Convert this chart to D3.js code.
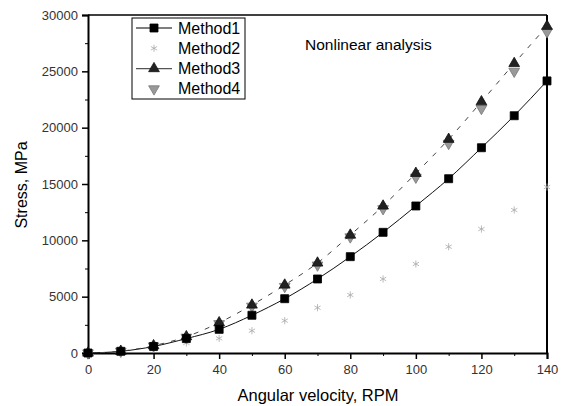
<!DOCTYPE html>
<html>
<head>
<meta charset="utf-8">
<script src="https://cdn.jsdelivr.net/npm/d3@7"></script>
<style>
  body { margin: 0; background: #fff; }
  svg { font-family: "Liberation Sans", Arial, sans-serif; }
</style>
</head>
<body>
<div id="chart"></div>
<script>
// ------------------------------------------------------------
// Data
// ------------------------------------------------------------
const rpm = [0, 10, 20, 30, 40, 50, 60, 70, 80, 90, 100, 110, 120, 130, 140];
const method1 = [0, 150, 580, 1280, 2100, 3350, 4820, 6570, 8550, 10710, 13050, 15470, 18220, 21060, 24150];
const method2 = [0, 100, 350, 890, 1300, 1980, 2870, 4020, 5150, 6570, 7900, 9430, 11000, 12690, 14730];
const method3 = [0, 160, 650, 1450, 2690, 4260, 6035, 7990, 10470, 13050, 15950, 18970, 22300, 25700, 29000];
const method4 = [0, 150, 620, 1400, 2600, 4150, 5900, 7800, 10300, 12800, 15600, 18600, 21700, 25000, 28500];
const xTicks = [0, 20, 40, 60, 80, 100, 120, 140];
const yTicks = [0, 5000, 10000, 15000, 20000, 25000, 30000];
const legendNames = ["Method1", "Method2", "Method3", "Method4"];

const width = 561, height = 406;
const margin = { top: 15, right: 14, bottom: 53, left: 88 };

const svg = d3.select("#chart").append("svg")
  .attr("width", width)
  .attr("height", height);

const x = d3.scaleLinear().domain([0, 140]).range([margin.left, width - margin.right]);
const y = d3.scaleLinear().domain([0, 30000]).range([height - margin.bottom, margin.top]);

// ------------------------------------------------------------
// Axes (Origin style: outward ticks, minor ticks, frame)
// ------------------------------------------------------------
const xMinor = d3.range(10, 140, 20);
const yMinor = d3.range(2500, 30000, 5000);

const xAxis = svg.append("g")
  .attr("transform", `translate(0,${y(0)})`)
  .call(d3.axisBottom(x).tickValues(xTicks).tickSize(6).tickPadding(6).tickFormat(d3.format("d")));
svg.append("g")
  .attr("transform", `translate(0,${y(0)})`)
  .call(d3.axisBottom(x).tickValues(xMinor).tickSize(3).tickFormat(""))
  .call(g => g.select(".domain").remove());

const yAxis = svg.append("g")
  .attr("transform", `translate(${x(0)},0)`)
  .call(d3.axisLeft(y).tickValues(yTicks).tickSize(6).tickPadding(4).tickFormat(d3.format("d")));
svg.append("g")
  .attr("transform", `translate(${x(0)},0)`)
  .call(d3.axisLeft(y).tickValues(yMinor).tickSize(3).tickFormat(""))
  .call(g => g.select(".domain").remove());

[xAxis, yAxis].forEach(g => {
  g.select(".domain").attr("stroke-width", 2);
  g.selectAll(".tick line").attr("stroke-width", 1.5);
  g.selectAll(".tick text").attr("font-size", 13).attr("fill", "#333");
});

// top and right frame
svg.append("line")
  .attr("x1", x(0)).attr("x2", x(140))
  .attr("y1", y(30000)).attr("y2", y(30000))
  .attr("stroke", "#000").attr("stroke-width", 1.5);
svg.append("line")
  .attr("x1", x(140)).attr("x2", x(140))
  .attr("y1", y(30000)).attr("y2", y(0))
  .attr("stroke", "#000").attr("stroke-width", 2);

// axis labels
svg.append("text")
  .attr("x", 318)
  .attr("y", 401)
  .attr("text-anchor", "middle")
  .attr("font-size", 16.5)
  .text("Angular velocity, RPM");

svg.append("text")
  .attr("transform", "rotate(-90)")
  .attr("x", -185)
  .attr("y", 27)
  .attr("text-anchor", "middle")
  .attr("font-size", 16)
  .text("Stress, MPa");

svg.append("text")
  .attr("x", 305)
  .attr("y", 50)
  .attr("font-size", 15.5)
  .text("Nonlinear analysis");

// ------------------------------------------------------------
// Series
// ------------------------------------------------------------
const plot = svg.append("g");

const line = d3.line()
  .x((d, i) => x(rpm[i]))
  .y(d => y(d))
  .curve(d3.curveMonotoneX);

plot.append("path")
  .datum(method1)
  .attr("fill", "none")
  .attr("stroke", "#111")
  .attr("stroke-width", 1)
  .attr("d", line);

plot.append("path")
  .datum(method3)
  .attr("fill", "none")
  .attr("stroke", "#444")
  .attr("stroke-width", 1)
  .attr("stroke-dasharray", "5,7")
  .attr("d", line);

const sym = {
  square: d3.symbol().type(d3.symbolSquare).size(64),
  tri: d3.symbol().type(d3.symbolTriangle).size(50),
  star: d3.symbol().type(d3.symbolAsterisk).size(36),
  dtri: d3.symbol().type(d3.symbolTriangle).size(50)
};

function drawMarkers(values, path, fill, stroke, rotate) {
  plot.append("g")
    .selectAll("path")
    .data(values)
    .join("path")
    .attr("transform", (d, i) => `translate(${x(rpm[i])},${y(d)})${rotate ? " rotate(180)" : ""}`)
    .attr("d", path)
    .attr("fill", fill)
    .attr("stroke", stroke)
    .attr("stroke-width", 0.8);
}

drawMarkers(method2, sym.star, "none", "#aaa", false);
drawMarkers(method4, sym.dtri, "#999", "#777", true);
drawMarkers(method3, sym.tri, "#222", "#111", false);
drawMarkers(method1, sym.square, "#000", "#000", false);

// ------------------------------------------------------------
// Legend
// ------------------------------------------------------------
const legend = svg.append("g");
legend.append("rect")
  .attr("x", 132).attr("y", 18)
  .attr("width", 113).attr("height", 81)
  .attr("fill", "#fff")
  .attr("stroke", "#000")
  .attr("stroke-width", 1);

const legendItems = [
  { line: true, path: sym.square, fill: "#000", stroke: "#000", rot: false },
  { line: false, path: sym.star, fill: "none", stroke: "#aaa", rot: false },
  { line: true, path: sym.tri, fill: "#222", stroke: "#111", rot: false },
  { line: false, path: sym.dtri, fill: "#999", stroke: "#777", rot: true }
];

legendItems.forEach((it, i) => {
  const ly = 28 + i * 20.3;
  if (it.line) {
    legend.append("line")
      .attr("x1", 136).attr("x2", 172)
      .attr("y1", ly).attr("y2", ly)
      .attr("stroke", i === 2 ? "#555" : "#000")
      .attr("stroke-width", 1.2);
  }
  legend.append("path")
    .attr("transform", `translate(154,${ly})${it.rot ? " rotate(180)" : ""}`)
    .attr("d", it.path)
    .attr("fill", it.fill)
    .attr("stroke", it.stroke)
    .attr("stroke-width", 0.8);
  legend.append("text")
    .attr("x", 178)
    .attr("y", ly + 5.5)
    .attr("font-size", 16)
    .text(legendNames[i]);
});
</script>
</body>
</html>
